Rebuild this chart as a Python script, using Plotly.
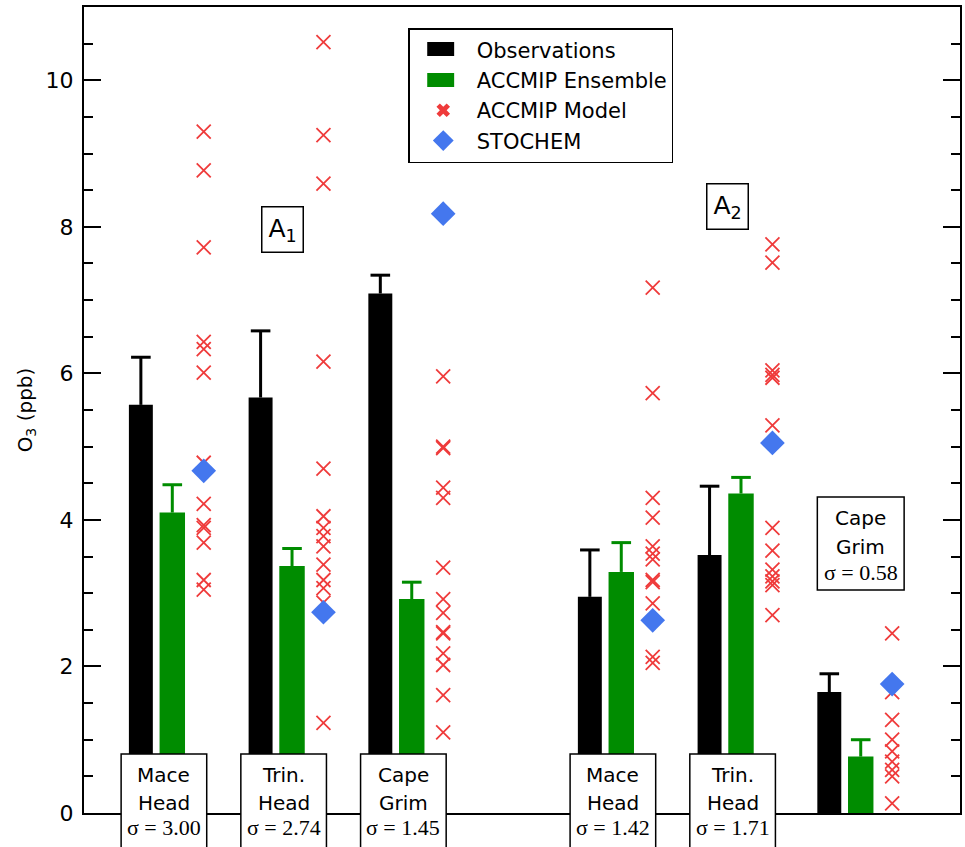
import plotly.graph_objects as go

# ---------------- data ----------------
site_names = ["Mace Head", "Trin. Head", "Cape Grim", "Mace Head", "Trin. Head", "Cape Grim"]
site_lines = [["Mace", "Head"], ["Trin.", "Head"], ["Cape", "Grim"],
              ["Mace", "Head"], ["Trin.", "Head"], ["Cape", "Grim"]]
sigma_labels = ["3.00", "2.74", "1.45", "1.42", "1.71", "0.58"]
group_labels = ["A<sub>1</sub>", "A<sub>2</sub>"]

obs = [5.57, 5.67, 7.09, 2.95, 3.52, 1.65]
obs_err = [0.65, 0.91, 0.25, 0.64, 0.94, 0.25]
ens = [4.10, 3.37, 2.92, 3.29, 4.36, 0.77]
ens_err = [0.38, 0.24, 0.23, 0.40, 0.22, 0.23]
stochem = [4.67, 2.74, 8.18, 2.63, 5.05, 1.76]

models = [
    [9.30, 8.77, 7.72, 6.43, 6.33, 6.01, 4.78, 4.22, 3.93, 3.89, 3.69, 3.18, 3.05],
    [10.52, 9.25, 8.59, 6.16, 4.70, 4.05, 3.89, 3.78, 3.64, 3.39, 3.18, 3.07, 2.87, 1.23],
    [5.96, 5.00, 4.98, 4.44, 4.30, 3.35, 2.92, 2.73, 2.47, 2.45, 2.18, 2.02, 1.61, 1.10],
    [7.17, 5.73, 4.30, 4.03, 3.64, 3.54, 3.46, 3.18, 3.15, 2.86, 2.13, 2.05],
    [7.76, 7.51, 6.04, 5.98, 5.94, 5.29, 3.89, 3.58, 3.32, 3.23, 3.16, 3.11, 2.70],
    [2.45, 1.65, 1.27, 1.00, 0.84, 0.70, 0.59, 0.50, 0.13],
]

# ---------------- layout helpers ----------------
W, H = 965, 847
L, R, T, B = 84, 3, 7, 34
PW, PH = W - L - R, H - T - B
XMAX = PW / 30.0
YMAX = 11.0

def py(p):  # pixel y -> paper
    return (H - B - p) / PH

def px(p):  # pixel x -> paper
    return (p - L) / PW

# site positions (x units), two groups of three sites
xs = [1.9 + 4 * i for i in range(3)] + [16.9 + 4 * i for i in range(3)]
xg = [x + 1.05 for x in xs]
xc = [x + 2.1 for x in xs]

BLACK = "#000000"
GREEN = "#008c00"
RED = "#ef3b3b"
BLUE = "#4477ee"
SANS = "DejaVu Sans"
SERIF = "Liberation Serif"

fig = go.Figure()

# bars with one-sided error bars (caps drawn as separate markers)
for xv, vals, errs, col, w in [(xs, obs, obs_err, BLACK, 0.8), (xg, ens, ens_err, GREEN, 0.85)]:
    fig.add_trace(go.Bar(
        x=xv, y=vals, width=w, marker=dict(color=col, line=dict(width=0)), showlegend=False,
        error_y=dict(type="data", symmetric=False, array=errs, arrayminus=[0] * len(vals),
                     color=col, thickness=3, width=0),
    ))
    fig.add_trace(go.Scatter(
        x=xv, y=[v + e for v, e in zip(vals, errs)], mode="markers", showlegend=False,
        marker=dict(symbol="line-ew", size=14, line=dict(color=col, width=3)),
    ))

# legend entries for bars (swatches drawn as shapes below)
fig.add_trace(go.Scatter(x=[None], y=[None], mode="lines", name="Observations", legendrank=1,
                         line=dict(color="rgba(0,0,0,0)", width=1)))
fig.add_trace(go.Scatter(x=[None], y=[None], mode="lines", name="ACCMIP Ensemble", legendrank=2,
                         line=dict(color="rgba(0,0,0,0)", width=1)))

mx, my = [], []
for x, vals in zip(xc, models):
    for v in vals:
        mx.append(x)
        my.append(v)
fig.add_trace(go.Scatter(
    x=mx, y=my, mode="markers", showlegend=False,
    marker=dict(symbol="x-thin", size=14, line=dict(color=RED, width=1.8)),
))
fig.add_trace(go.Scatter(
    x=[None], y=[None], mode="markers", name="ACCMIP Model", legendrank=3,
    marker=dict(symbol="x", size=12, color=RED, line=dict(width=0)),
))
fig.add_trace(go.Scatter(
    x=xc, y=stochem, mode="markers", name="STOCHEM", legendrank=4,
    marker=dict(symbol="diamond", size=19, color=BLUE, line=dict(width=0)),
))

shapes = []
annotations = []

# legend background + swatches for the bar series
shapes.append(dict(type="rect", xref="paper", yref="paper",
                   x0=px(410), x1=px(672), y0=py(158), y1=py(29),
                   line=dict(width=0), fillcolor="white", layer="above"))
for col, yc in [(BLACK, 49), (GREEN, 80)]:
    shapes.append(dict(type="rect", xref="paper", yref="paper",
                       x0=px(428), x1=px(455), y0=py(yc + 7), y1=py(yc - 7),
                       line=dict(width=0), fillcolor=col, layer="above"))

# bottom site label boxes (first five sites)
for i in range(5):
    cx = xs[i] + 0.77
    shapes.append(dict(type="rect", xref="x", yref="paper",
                       x0=cx - 1.43, x1=cx + 1.43, y0=py(852), y1=py(754),
                       line=dict(color=BLACK, width=1.5), fillcolor="white", layer="above"))
    for txt, yy in zip(site_lines[i], [775, 803]):
        annotations.append(dict(xref="x", yref="paper", x=cx, y=py(yy), text=txt,
                                showarrow=False, yanchor="middle",
                                font=dict(family=SANS, size=20, color=BLACK)))
    annotations.append(dict(xref="x", yref="paper", x=cx, y=py(828),
                            text="σ = " + sigma_labels[i], showarrow=False, yanchor="middle",
                            font=dict(family=SERIF, size=22, color=BLACK)))

# Cape Grim (A2) box placed in the plot
cx = xs[5] + 1.05
shapes.append(dict(type="rect", xref="x", yref="paper",
                   x0=cx - 1.45, x1=cx + 1.45, y0=py(590), y1=py(497),
                   line=dict(color=BLACK, width=1.5), fillcolor="white", layer="above"))
for txt, yy in zip(site_lines[5], [518, 547]):
    annotations.append(dict(xref="x", yref="paper", x=cx, y=py(yy), text=txt,
                            showarrow=False, yanchor="middle",
                            font=dict(family=SANS, size=20, color=BLACK)))
annotations.append(dict(xref="x", yref="paper", x=cx, y=py(572),
                        text="σ = " + sigma_labels[5], showarrow=False, yanchor="middle",
                        font=dict(family=SERIF, size=22, color=BLACK)))

# group labels A1, A2
for lab, gx, gy in zip(group_labels, [px(282.5), px(728.5)], [py(229.5), py(206.5)]):
    annotations.append(dict(xref="paper", yref="paper", x=gx, y=gy, text=lab,
                            showarrow=False, xanchor="center", yanchor="middle",
                            bordercolor=BLACK, borderwidth=1.5, borderpad=6, bgcolor="white",
                            font=dict(family=SANS, size=25, color=BLACK)))

fig.update_layout(
    width=W, height=H,
    margin=dict(l=L, r=R, t=T, b=B, pad=0),
    paper_bgcolor="white", plot_bgcolor="white",
    barmode="overlay",
    showlegend=True,
    legend=dict(x=px(409), y=py(28), xanchor="left", yanchor="top",
                bordercolor=BLACK, borderwidth=1.5, bgcolor="rgba(0,0,0,0)",
                font=dict(family=SANS, size=21, color=BLACK),
                tracegroupgap=0, itemwidth=57, traceorder="normal"),
    shapes=shapes, annotations=annotations,
    font=dict(family=SANS, color=BLACK),
)
fig.update_xaxes(range=[0, XMAX], showgrid=False, zeroline=False, showline=True,
                 linecolor=BLACK, linewidth=2, mirror=True, ticks="", showticklabels=False)
fig.update_yaxes(range=[0, YMAX], showgrid=False, zeroline=False, showline=True,
                 linecolor=BLACK, linewidth=2, mirror="ticks",
                 ticks="inside", ticklen=17, tickwidth=1.5, tickcolor=BLACK,
                 tickvals=[0, 2, 4, 6, 8, 10],
                 minor=dict(ticks="inside", ticklen=9, tickwidth=1.5, tickcolor=BLACK, dtick=0.5),
                 tickfont=dict(family=SANS, size=22, color=BLACK), ticklabelstandoff=4,
                 title=dict(text="O<sub>3</sub> (ppb)", standoff=8,
                            font=dict(family=SANS, size=20, color=BLACK)))

fig.write_html("out.html")
